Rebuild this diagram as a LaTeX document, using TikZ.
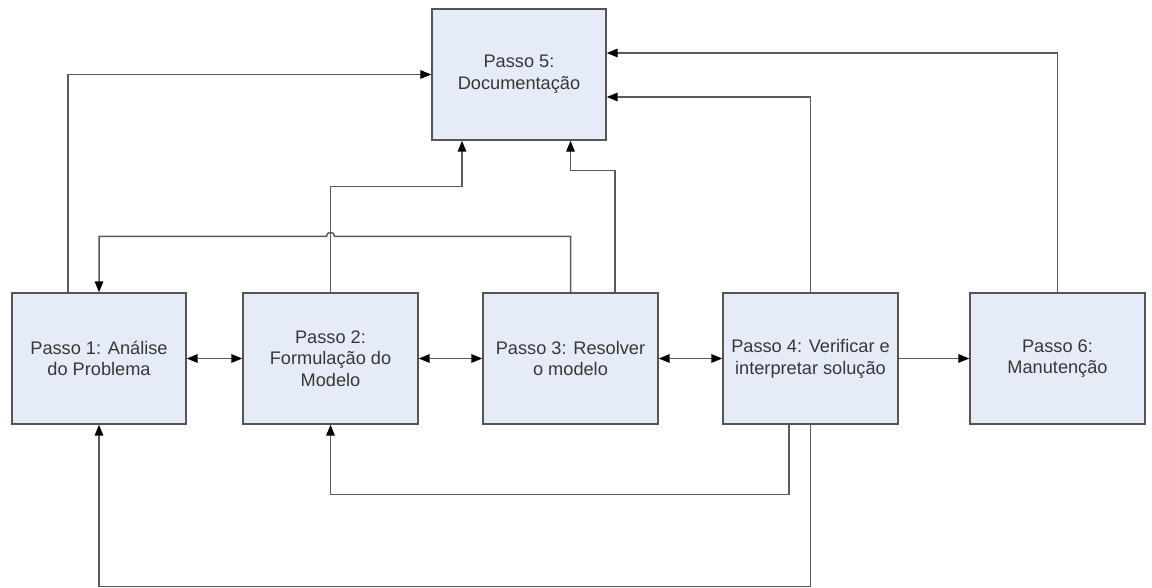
\documentclass[tikz,border=0pt]{standalone}
\usepackage{fontspec}
\setmainfont{Liberation Sans}
\usetikzlibrary{arrows.meta,calc}
\definecolor{boxfill}{RGB}{230,236,247}
\definecolor{boxline}{RGB}{85,85,85}
\definecolor{conn}{RGB}{90,90,90}
\definecolor{txt}{RGB}{55,55,55}
\begin{document}
\begin{tikzpicture}[x=1pt,y=-1pt,
  stepbox/.style={draw=boxline,fill=boxfill,line width=1.4pt,minimum width=175pt,minimum height=131pt,
    align=center,inner sep=2pt,text=txt,font=\fontsize{18.2}{21.7}\selectfont},
  conline/.style={draw=conn,line width=1.5pt},
  arr/.style={conline,-{Triangle[length=11pt,width=8.5pt,color=black]}},
  biarr/.style={conline,{Triangle[length=11pt,width=8.5pt,color=black]}-{Triangle[length=11pt,width=8.5pt,color=black]}}]
\useasboundingbox (0,0) rectangle (1152,588);
\node[stepbox,minimum width=174pt] (b1) at (99,358.5) {Passo 1: Análise\\do Problema};
\node[stepbox] (b2) at (330.5,358.5) {Passo 2:\\Formulação do\\Modelo};
\node[stepbox] (b3) at (570.5,358.5) {Passo 3: Resolver\\o modelo};
\node[stepbox] (b4) at (810.5,358.5) {Passo 4: Verificar e\\interpretar solução};
\node[stepbox] (b6) at (1057.5,358.5) {Passo 6:\\Manutenção};
\node[stepbox,minimum width=174pt] (b5) at (519,74.5) {Passo 5:\\Documentação};
% to Passo 5
\draw[arr] ($(b1.north)+(-31,0)$) |- (b5.west);
\draw[arr] (b6.north) |- ($(b5.east)+(0,-21.5)$);
\draw[arr] (b4.north) |- ($(b5.east)+(0,22.5)$);
\draw[arr] (b2.north) -- ++(0,-106) -| ($(b5.south)+(-57,0)$);
\draw[arr] ($(b3.north)+(44.5,0)$) -- ++(0,-122) -| (b3.north |- b5.south);
% Passo 3 back to Passo 1 with hop
\coordinate (hop) at ($(b2.north)+(0,-56)$);
\draw[arr] (b3.north) |- ($(hop)+(4,0)$) arc[start angle=0,end angle=-180,radius=4] -| (b1.north);
% horizontal chain
\draw[biarr] (b1.east) -- (b2.west);
\draw[biarr] (b2.east) -- (b3.west);
\draw[biarr] (b3.east) -- (b4.west);
\draw[arr] (b4.east) -- (b6.west);
% bottom feedback
\draw[arr] ($(b4.south)+(-21.5,0)$) -- ++(0,70) -| (b2.south);
\draw[arr] (b4.south) -- ++(0,162) -| (b1.south);
\end{tikzpicture}
\end{document}
